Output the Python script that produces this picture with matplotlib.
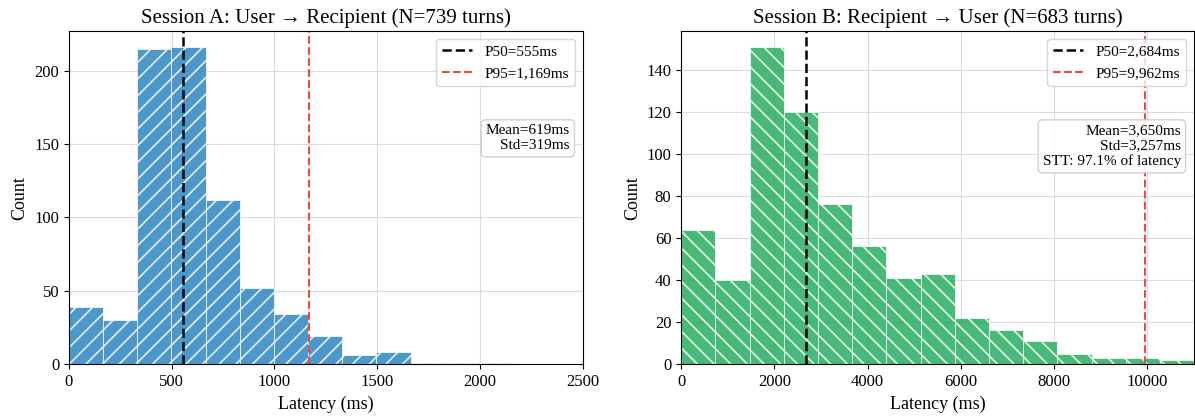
import matplotlib
import matplotlib.pyplot as plt
import numpy as np

plt.switch_backend('agg')
plt.rcParams['font.family'] = ['Liberation Serif', 'DejaVu Serif']
plt.rcParams['hatch.linewidth'] = 1.2

# Session A: user -> recipient
a_edges = np.linspace(0, 2493, 16)
a_counts = [39, 30, 215, 216, 112, 52, 34, 19, 6, 8, 1, 1, 1, 0, 0]
a_p50, a_p95 = 555, 1169
a_mean, a_std = 619, 319

# Session B: recipient -> user
b_edges = np.linspace(0, 11010, 16)
b_counts = [64, 40, 151, 120, 76, 56, 41, 43, 22, 16, 11, 5, 3, 3, 2]
b_p50, b_p95 = 2684, 9962
b_mean, b_std = 3650, 3257
b_stt = 97.1

fig = plt.figure(figsize=(11.95, 4.16), dpi=100)
ax1 = fig.add_axes([0.0577, 0.125, 0.430, 0.800])
ax2 = fig.add_axes([0.5700, 0.125, 0.429, 0.800])


def draw(ax, edges, counts, color, hatch, p50, p95, stats, title, xmax):
    ax.hist(edges[:-1], bins=edges, weights=counts, color=color, alpha=0.85,
            edgecolor='white', linewidth=0.6, hatch=hatch)
    ax.axvline(p50, color='black', linestyle='--', linewidth=1.8,
               label='P50={:,}ms'.format(p50))
    ax.axvline(p95, color='#e74c3c', linestyle='--', linewidth=1.5,
               label='P95={:,}ms'.format(p95))
    ax.set_xlim(0, xmax)
    ax.set_title(title, fontsize=15, pad=6)
    ax.set_xlabel('Latency (ms)', fontsize=13, labelpad=4)
    ax.set_ylabel('Count', fontsize=13)
    ax.tick_params(labelsize=12)
    ax.grid(True, color='#cccccc', alpha=0.7, linewidth=0.8)
    ax.set_axisbelow(True)
    ax.legend(loc='upper right', fontsize=11)
    ax.text(0.975, 0.72, stats, transform=ax.transAxes, ha='right', va='top',
            fontsize=11,
            bbox=dict(boxstyle='round', facecolor='white', edgecolor='#cccccc', alpha=0.9))


draw(ax1, a_edges, a_counts, '#2E86C1', '//', a_p50, a_p95,
     'Mean={:,}ms\nStd={:,}ms'.format(a_mean, a_std),
     'Session A: User \u2192 Recipient (N=739 turns)', 2500)
draw(ax2, b_edges, b_counts, '#27AE60', '\\\\', b_p50, b_p95,
     'Mean={:,}ms\nStd={:,}ms\nSTT: {}% of latency'.format(b_mean, b_std, b_stt),
     'Session B: Recipient \u2192 User (N=683 turns)', 11000)

fig.savefig('out.png', dpi=100)
